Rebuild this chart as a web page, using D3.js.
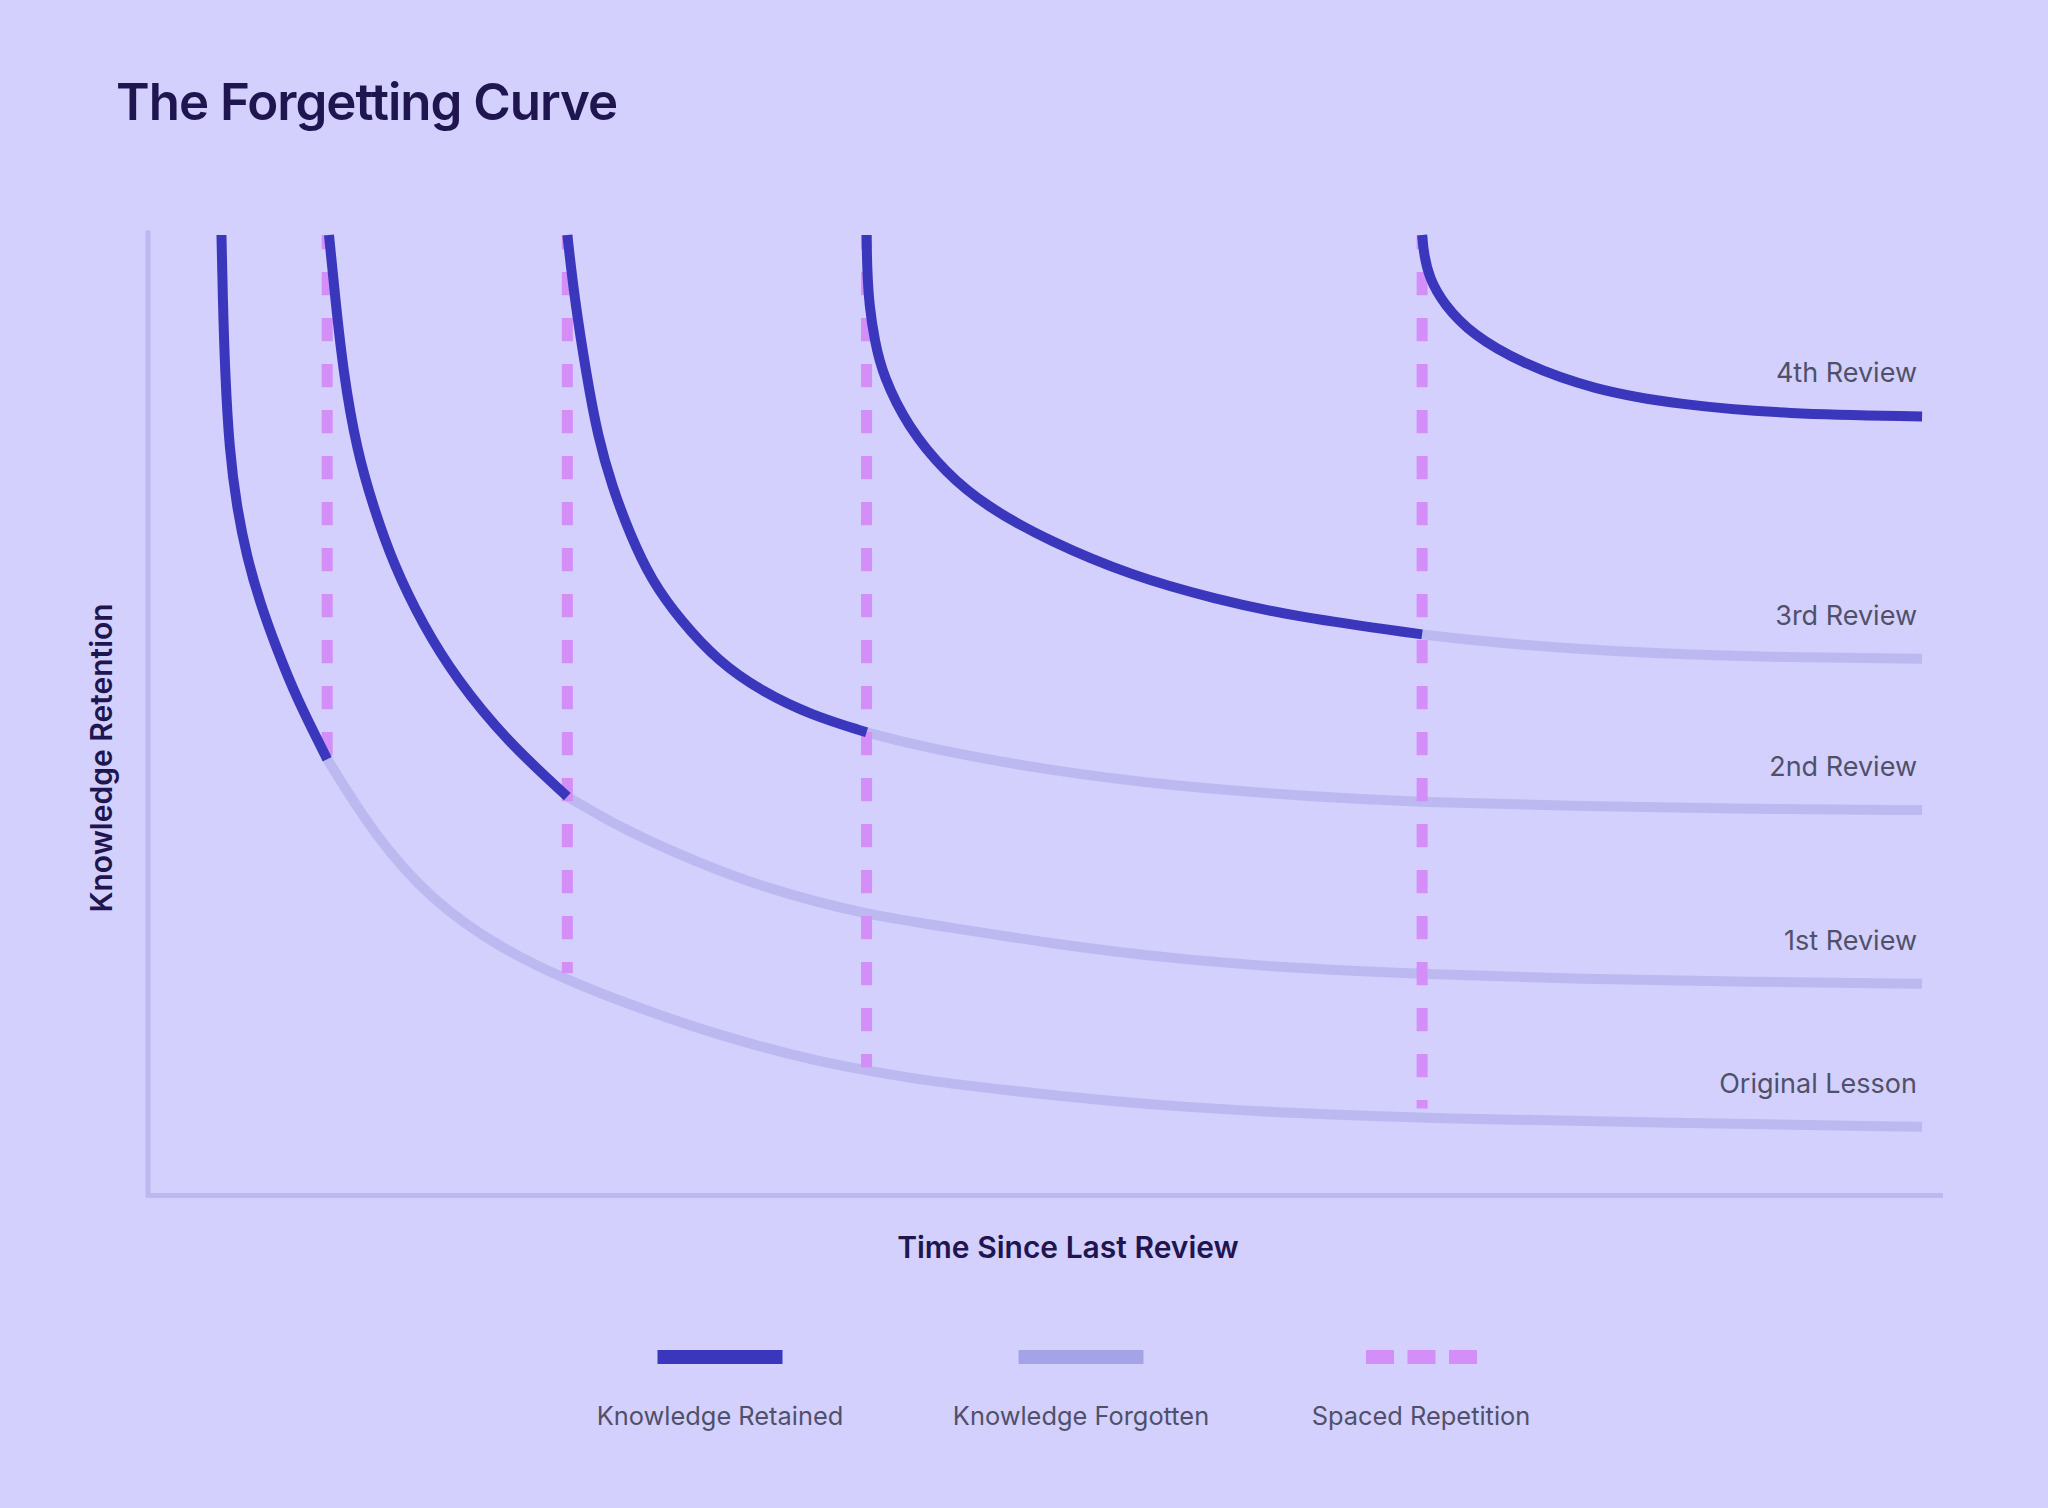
<!DOCTYPE html>
<html>
<head>
<meta charset="utf-8">
<script src="https://cdn.jsdelivr.net/npm/d3@7"></script>
<style>
  body { margin: 0; background: #d3d0fe; }
  svg { display: block; font-family: Inter, 'Noto Sans', sans-serif; }
</style>
</head>
<body>
<script>
// review moments (time units) and curve names
const reviewTimes = [4.1, 10, 23.4, 40.1, 71.1];
const curveNames = ['Original Lesson', '1st Review', '2nd Review', '3rd Review', '4th Review'];
// where each spaced-repetition marker stops (retention %)
const repetitionEnds = [45.4, 23.1, 13.3, 9.0];

// [time, retention %]
const originalLesson = [
  [4.1, 100], [4.17, 93.6], [4.3, 85.6], [4.54, 77.6], [4.95, 71.7], [5.51, 66.5],
  [6.25, 61.7], [7.18, 56.9], [8.3, 51.7], [10, 45.4], [12.54, 37.7], [15.78, 30.7],
  [19.84, 25.5], [23.4, 22.4], [26.6, 20.0], [32, 16.5], [37.4, 13.9], [40.1, 13.0],
  [43.3, 11.9], [50.3, 10.4], [57.2, 9.2], [64.1, 8.5], [71.1, 8.0], [85, 7.5], [99, 7.1],
];
const review1 = [
  [10.1, 100], [10.44, 93.6], [10.9, 85.6], [11.65, 77.6], [12.57, 71.7], [13.69, 65.7],
  [15.36, 59.3], [17.23, 53.7], [20.02, 47.3], [23.4, 41.5], [26.6, 38.0], [30.7, 34.6],
  [34.7, 31.8], [40.1, 29.2], [43.3, 28.3], [50.3, 26.2], [57.2, 24.6], [64.1, 23.6],
  [71.1, 23.0], [80, 22.5], [89.4, 22.2], [99, 22.0],
];
const review2 = [
  [23.4, 100], [23.8, 93.4], [24.45, 85.6], [25.1, 79.0], [25.9, 73.8], [26.9, 68.8],
  [28.1, 64.0], [29.7, 59.9], [31.8, 55.6], [34.3, 52.4], [37.0, 50.0], [40.1, 48.2],
  [43.3, 46.6], [50.3, 44.2], [57.2, 42.6], [64.1, 41.6], [71.1, 40.9], [80, 40.5],
  [89.4, 40.2], [99, 40.1],
];
const review3 = [
  [40.1, 100], [40.13, 96.4], [40.25, 92.6], [40.55, 89.0], [41.0, 85.4], [42.4, 80.0],
  [44.5, 75.25], [46.8, 71.7], [50.3, 68.1], [54.9, 64.5], [59.5, 62.1], [64.1, 60.2],
  [71.1, 58.4], [75.7, 57.4], [83.6, 56.4], [91.4, 56.0], [99, 55.85],
];
const review4 = [
  [71.1, 100], [71.2, 98], [71.5, 95.5], [72.3, 92.8], [73.9, 89.6], [76.7, 86.6],
  [80.6, 83.9], [85.5, 82.3], [91.4, 81.35], [99, 81.1],
];
const legendLabels = ['Knowledge Retained', 'Knowledge Forgotten', 'Spaced Repetition'];

const curves = [originalLesson, review1, review2, review3, review4];

const width = 2048;
const height = 1508;
const colors = {
  retained: '#3b37bd',
  forgotten: '#bbb9f0',
  forgottenKey: '#a5a3e8',
  spaced: '#d38ef8',
  axis: '#bbb9f0',
  title: '#1f1650',
  label: '#50506a',
};

const svg = d3
  .select('body')
  .append('svg')
  .attr('width', width)
  .attr('height', height);

const x = d3.scaleLinear().domain([0, 100]).range([148, 1940]);
const y = d3.scaleLinear().domain([0, 100]).range([1195, 235]);

// title
svg
  .append('text')
  .attr('x', 116)
  .attr('y', 120)
  .attr('fill', colors.title)
  .style('font-size', '51px')
  .style('font-weight', 600)
  .style('letter-spacing', '-1px')
  .text('The Forgetting Curve');

// axes (no ticks, just the lines)
const xAxis = d3.axisBottom(x).tickValues([]).tickSizeOuter(0);
const yAxis = d3.axisLeft(y).tickValues([]).tickSizeOuter(0);

svg
  .append('g')
  .attr('transform', `translate(0,${y(0)})`)
  .call(xAxis)
  .select('.domain')
  .attr('stroke', colors.axis)
  .attr('stroke-width', 5)
  .attr('stroke-linecap', 'square');

svg
  .append('g')
  .attr('transform', `translate(${x(0)},0)`)
  .call(yAxis)
  .select('.domain')
  .attr('d', `M0,${y(0)}V233`)
  .attr('stroke', colors.axis)
  .attr('stroke-width', 5)
  .attr('stroke-linecap', 'square');

svg
  .append('text')
  .attr('transform', `translate(112,758)rotate(-90)`)
  .attr('text-anchor', 'middle')
  .attr('fill', colors.title)
  .style('font-size', '30px')
  .style('font-weight', 600)
  .text('Knowledge Retention');

svg
  .append('text')
  .attr('x', 1068)
  .attr('y', 1258)
  .attr('text-anchor', 'middle')
  .attr('fill', colors.title)
  .style('font-size', '30px')
  .style('font-weight', 600)
  .text('Time Since Last Review');

const line = d3
  .line()
  .x((d) => x(d[0]))
  .y((d) => y(d[1]))
  .curve(d3.curveBasis);

// split each curve at the next review
const parts = curves.map((pts, i) => {
  const cut = reviewTimes[i + 1];
  if (cut === undefined) return { retained: pts, forgotten: [] };
  return {
    retained: pts.filter((d) => d[0] <= cut),
    forgotten: pts.filter((d) => d[0] >= cut),
  };
});

svg
  .append('g')
  .selectAll('path')
  .data(parts.filter((p) => p.forgotten.length))
  .join('path')
  .attr('d', (p) => line(p.forgotten))
  .attr('fill', 'none')
  .attr('stroke', colors.forgotten)
  .attr('stroke-width', 10);

// spaced repetition markers
svg
  .append('g')
  .selectAll('line')
  .data(reviewTimes.slice(1))
  .join('line')
  .attr('x1', (t) => x(t))
  .attr('x2', (t) => x(t))
  .attr('y1', y(100))
  .attr('y2', (t, i) => y(repetitionEnds[i]))
  .attr('stroke', colors.spaced)
  .attr('stroke-width', 11)
  .attr('stroke-dasharray', '23.2 22.8')
  .attr('stroke-dashoffset', 9);

svg
  .append('g')
  .selectAll('path')
  .data(parts)
  .join('path')
  .attr('d', (p) => line(p.retained))
  .attr('fill', 'none')
  .attr('stroke', colors.retained)
  .attr('stroke-width', 10);

// curve labels
svg
  .append('g')
  .selectAll('text')
  .data(curves)
  .join('text')
  .attr('x', 1917)
  .attr('y', (pts) => y(pts[pts.length - 1][1]) - 34)
  .attr('text-anchor', 'end')
  .attr('fill', colors.label)
  .style('font-size', '27px')
  .text((pts, i) => curveNames[i]);

// legend
const legendCenters = [720, 1081, 1421];
const legend = svg.append('g');

legend
  .append('rect')
  .attr('x', legendCenters[0] - 62.5)
  .attr('y', 1350)
  .attr('width', 125)
  .attr('height', 14)
  .attr('fill', colors.retained);

legend
  .append('rect')
  .attr('x', legendCenters[1] - 62.5)
  .attr('y', 1350)
  .attr('width', 125)
  .attr('height', 14)
  .attr('fill', colors.forgottenKey);

legend
  .selectAll('rect.dash')
  .data([0, 1, 2])
  .join('rect')
  .attr('class', 'dash')
  .attr('x', (i) => legendCenters[2] - 55 + i * 41.5)
  .attr('y', 1350)
  .attr('width', 28)
  .attr('height', 14)
  .attr('fill', colors.spaced);

legend
  .selectAll('text')
  .data(legendLabels)
  .join('text')
  .attr('x', (d, i) => legendCenters[i])
  .attr('y', 1424.5)
  .attr('text-anchor', 'middle')
  .attr('fill', colors.label)
  .style('font-size', '25.4px')
  .text((d) => d);
</script>
</body>
</html>
